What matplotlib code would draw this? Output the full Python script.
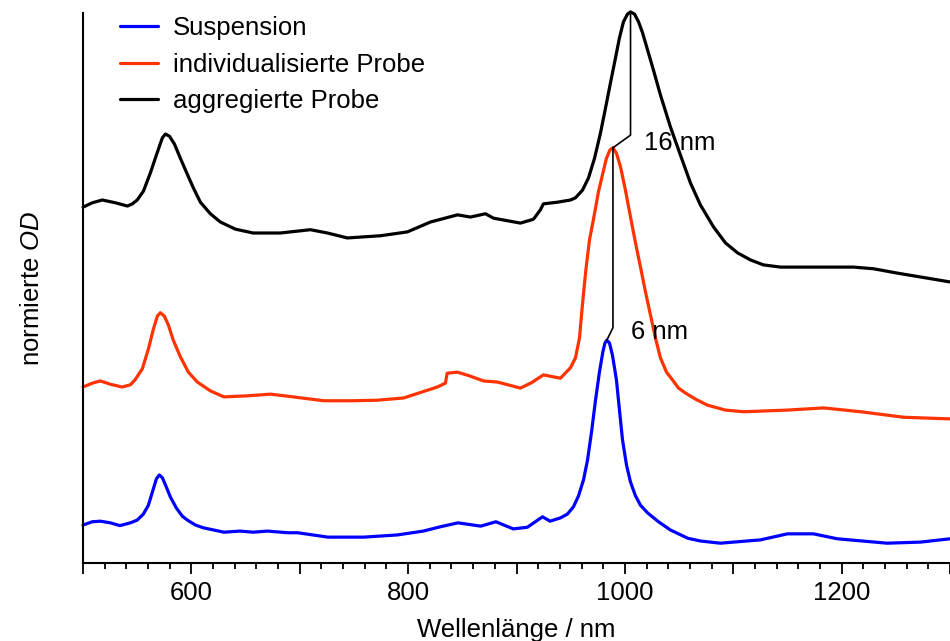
import numpy as np
import matplotlib
matplotlib.use("Agg")
import matplotlib.pyplot as plt
from matplotlib.ticker import MultipleLocator, FuncFormatter

plt.rcParams['font.family'] = ['Liberation Sans', 'DejaVu Sans']
plt.rcParams['mathtext.fontset'] = 'custom'
plt.rcParams['mathtext.rm'] = 'Liberation Sans'
plt.rcParams['mathtext.it'] = 'Liberation Sans:italic'

# spectra (wavelength / nm, normalised OD incl. vertical offset)
wl_susp = [500, 508.6, 516, 525.2, 534, 543.7, 550, 555.7, 560.3, 564, 567.7, 570.4, 573.2,
           576.9, 580.6, 586.1, 591.7, 596.3, 603.7, 611, 630, 645, 657, 670, 689, 698, 726,
           759, 790, 814, 830, 846, 867, 881, 897, 910, 924, 931, 940.5, 947, 952.5, 957.2,
           961.8, 965.5, 969.2, 972.9, 976.5, 979.7, 981.6, 983.3, 985.8, 988.5, 992.2, 995,
           997.8, 1001.5, 1005.2, 1009.8, 1014.4, 1021, 1031, 1042, 1058, 1069.7, 1088,
           1125, 1150, 1174, 1196, 1242, 1273, 1300]
od_susp = [0.069, 0.075, 0.076, 0.073, 0.068, 0.073, 0.078, 0.089, 0.105, 0.129, 0.153,
           0.160, 0.155, 0.138, 0.120, 0.100, 0.085, 0.078, 0.069, 0.064, 0.056, 0.058,
           0.056, 0.058, 0.055, 0.055, 0.047, 0.047, 0.051, 0.058, 0.066, 0.073, 0.067,
           0.075, 0.062, 0.065, 0.084, 0.076, 0.082, 0.089, 0.102, 0.122, 0.151, 0.187,
           0.238, 0.296, 0.347, 0.384, 0.400, 0.405, 0.400, 0.378, 0.333, 0.278, 0.224,
           0.178, 0.147, 0.122, 0.105, 0.091, 0.075, 0.060, 0.045, 0.040, 0.036, 0.042,
           0.053, 0.053, 0.044, 0.036, 0.038, 0.044]

wl_indiv = [500, 508.6, 516, 525.2, 536, 543.7, 548, 554.7, 560.3, 564.9, 568.6, 571.3, 575,
            578.7, 583.3, 589.8, 597.2, 605.5, 617.5, 630, 652, 673, 694, 722, 749.5, 771.6,
            795.7, 827, 834.4, 836, 845.5, 857, 869.5, 882.4, 903.6, 914, 924.8, 940.5, 949.8,
            954.4, 958.1, 960.8, 964, 967.3, 971.4, 975.6, 979.7, 983, 986.2, 989, 992.2,
            996, 1000.5, 1005.2, 1009.8, 1014.4, 1019, 1023.6, 1028.2, 1032.8, 1038.4,
            1043.9, 1049.5, 1055.9, 1065.1, 1076.2, 1092.8, 1109.5, 1150, 1183.3, 1217.5,
            1257.2, 1300]
od_indiv = [0.320, 0.327, 0.331, 0.325, 0.320, 0.324, 0.333, 0.353, 0.389, 0.425, 0.449,
            0.455, 0.449, 0.433, 0.405, 0.375, 0.347, 0.329, 0.313, 0.302, 0.304, 0.307,
            0.302, 0.295, 0.295, 0.296, 0.300, 0.320, 0.327, 0.345, 0.347, 0.340, 0.331,
            0.329, 0.318, 0.328, 0.342, 0.336, 0.355, 0.373, 0.409, 0.469, 0.533, 0.587,
            0.629, 0.675, 0.709, 0.736, 0.751, 0.755, 0.745, 0.720, 0.678, 0.629, 0.582,
            0.538, 0.493, 0.451, 0.409, 0.373, 0.347, 0.333, 0.318, 0.309, 0.298, 0.287,
            0.278, 0.275, 0.278, 0.282, 0.275, 0.265, 0.262]

wl_aggr = [500, 508.6, 517.8, 529.8, 541, 545.5, 550, 555.7, 562.1, 568.6, 573.2, 576, 579.7,
           584.3, 589.8, 595.3, 601.8, 608.3, 617.5, 626.7, 640.6, 657, 682, 709.8, 725.5,
           744, 774.4, 799.3, 820.6, 845.5, 857.5, 871.3, 878.7, 903.6, 915.6, 922, 924.8,
           937.7, 949.8, 954.4, 960.9, 966.4, 972, 977.5, 982.1, 986.7, 991.3, 995, 998.7,
           1002.4, 1005.2, 1008.9, 1012.6, 1016.3, 1020.9, 1026.4, 1032.8, 1042, 1051.2,
           1060.5, 1069.7, 1081.8, 1092.8, 1103.9, 1115.9, 1127.9, 1143.6, 1164.8, 1211,
           1229.4, 1251.6, 1272.8, 1300]
od_aggr = [0.647, 0.655, 0.660, 0.655, 0.649, 0.653, 0.660, 0.676, 0.709, 0.747, 0.773,
           0.780, 0.776, 0.762, 0.736, 0.711, 0.682, 0.656, 0.635, 0.620, 0.607, 0.600,
           0.600, 0.606, 0.600, 0.591, 0.595, 0.602, 0.620, 0.633, 0.629, 0.635, 0.627,
           0.618, 0.625, 0.642, 0.653, 0.656, 0.660, 0.664, 0.678, 0.700, 0.736, 0.782,
           0.827, 0.873, 0.918, 0.955, 0.984, 0.998, 1.002, 0.998, 0.984, 0.964, 0.933,
           0.896, 0.851, 0.793, 0.742, 0.691, 0.651, 0.611, 0.582, 0.564, 0.551, 0.542,
           0.538, 0.538, 0.538, 0.535, 0.527, 0.520, 0.511]

labels = ['Suspension', 'individualisierte Probe', 'aggregierte Probe']
colors = ['#0000ff', '#ff3300', '#000000']

fig = plt.figure(figsize=(9.5, 6.41), dpi=100)
ax = fig.add_axes([0.0874, 0.1217, 0.9126, 0.858])

series = [(wl_susp, od_susp), (wl_indiv, od_indiv), (wl_aggr, od_aggr)]
for (wl, od), lab, col in zip(series, labels, colors):
    ax.plot(wl, od, color=col, lw=2.3, label=lab, clip_on=False,
            solid_joinstyle='round', solid_capstyle='round')

# peak shift markers
peaks = []
for wl, od in series:
    i = int(np.argmax(np.where(np.array(wl) > 900, od, -1)))
    peaks.append((wl[i], od[i]))
(xb, yb), (xr, yr), (xa, ya) = peaks
kink = 0.023
ax.plot([xa, xa, xr], [ya, yr + kink, yr], color='k', lw=1.2, clip_on=False)
ax.plot([xr, xr, xb], [yr, yb + kink, yb], color='k', lw=1.2, clip_on=False)
ax.text(xa + 12, yr + 0.009, '%d nm' % round(xa - xr), fontsize=18.5, va='center')
ax.text(xr + 17, yb + 0.015, '%d nm' % round(xr - xb), fontsize=18.5, va='center')

ax.set_xlim(500, 1300)
ax.set_ylim(0, 1)
ax.spines['top'].set_visible(False)
ax.spines['right'].set_visible(False)
ax.spines['left'].set_linewidth(1.5)
ax.spines['bottom'].set_linewidth(1.5)
ax.set_yticks([])
ax.xaxis.set_major_locator(MultipleLocator(100))
ax.xaxis.set_minor_locator(MultipleLocator(20))
ax.xaxis.set_major_formatter(FuncFormatter(lambda v, p: '%d' % v if v % 200 == 0 else ''))
ax.tick_params(axis='x', which='major', length=8, width=1.3, labelsize=18.5, pad=5)
ax.tick_params(axis='x', which='minor', length=4.5, width=1.3)

ax.set_xlabel('Wellenlänge / nm', fontsize=18.5, labelpad=9)
ax.set_ylabel('normierte $\\mathit{OD}$', fontsize=18.5, labelpad=28)

ax.legend(loc='upper left', bbox_to_anchor=(0.043, 0.995), frameon=False, fontsize=18.5,
          handlelength=1.45, handletextpad=0.6, labelspacing=0.5, borderpad=0,
          borderaxespad=0)

fig.savefig('out.png', dpi=100)
